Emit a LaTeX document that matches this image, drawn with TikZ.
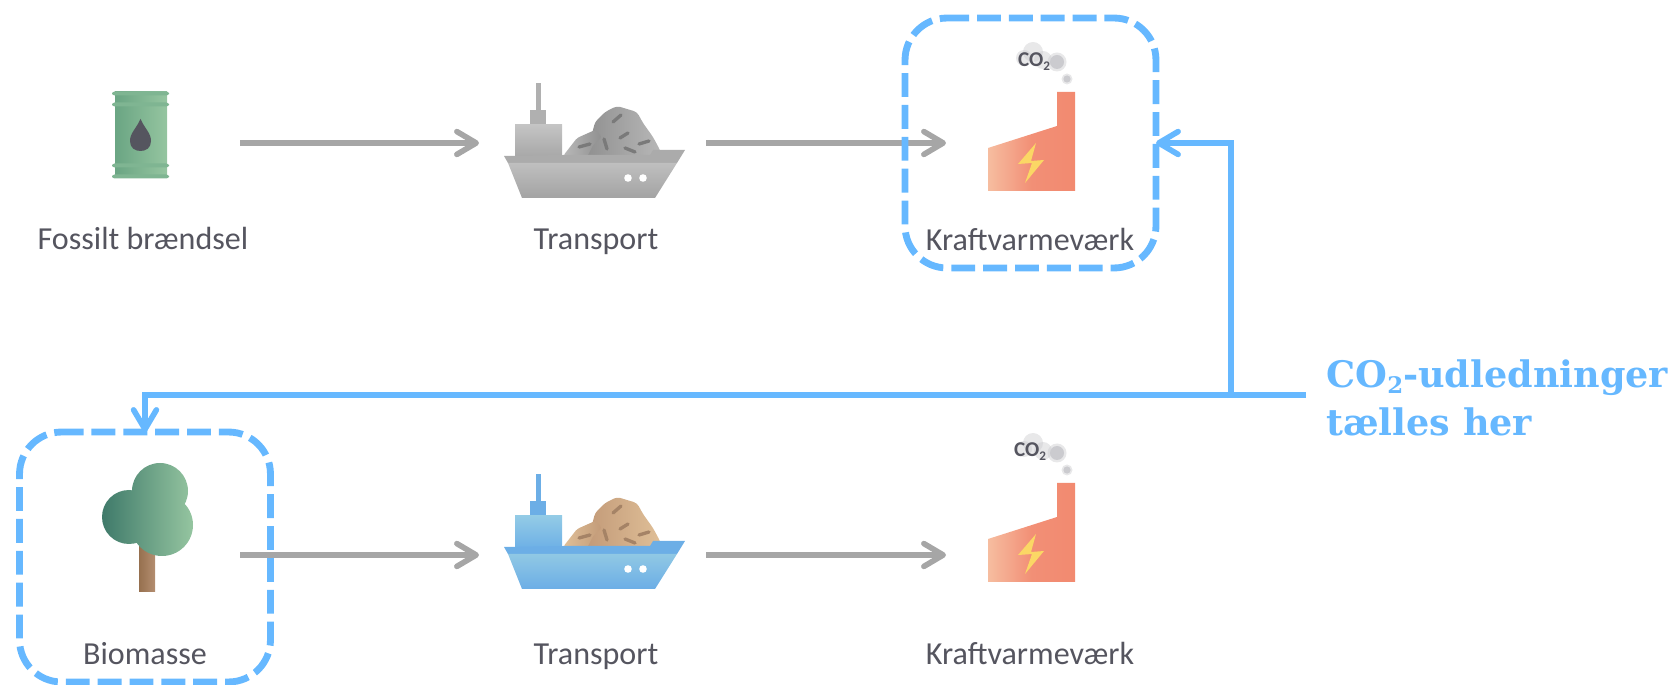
\documentclass[tikz,border=0pt]{standalone}
\usepackage{fontspec}
\setmainfont{Carlito}
\newfontfamily\serifbold{DejaVu Serif}
\usetikzlibrary{arrows.meta,calc}
\newcommand{\defhex}[1]{\definecolor{#1}{HTML}{#1}}
\defhex{6AA583}\defhex{95C5A0}\defhex{7FB592}\defhex{55555F}
\defhex{B0B0B0}\defhex{C4C4C4}\defhex{A8A8A8}\defhex{ABABAB}\defhex{BFBFBF}\defhex{A3A3A3}\defhex{B8B8B8}\defhex{909090}
\defhex{6CAEE6}\defhex{93CBE6}\defhex{6FB1E6}\defhex{90C8E4}\defhex{E0C098}\defhex{C29A78}
\defhex{96704F}\defhex{B48E70}\defhex{3F7A6A}
\defhex{F6BDA0}\defhex{F28A70}\defhex{F28F76}\defhex{FBD765}
\definecolor{linegray}{HTML}{A6A6A6}
\definecolor{bluec}{HTML}{66B8FF}
\definecolor{labelc}{HTML}{55555F}
\definecolor{smokec}{HTML}{CBCBCF}
\tikzset{
  x=0.02cm,y=-0.02cm,
  flowline/.style={draw=linegray,line width=3.4pt,-{Straight Barb[length=11pt,width=13pt,line width=3.2pt,round]}},
  blueline/.style={draw=bluec,line width=3.4pt},
  bluearrow/.style={blueline,-{Straight Barb[length=11pt,width=13pt,line width=3.2pt,round]}},
  dashbox/.style={draw=bluec,line width=3.9pt,rounded corners=0.84cm,dash pattern=on 13.6pt off 4.54pt,dash phase=4.5pt},
  boxarea/.style={minimum width=5.02cm,minimum height=5cm,inner sep=0pt,outer sep=0pt},
  lab/.style={anchor=base,text=labelc,inner sep=0pt,font=\fontsize{18.25}{20}\selectfont},
  cotext/.style={anchor=base,text=labelc,inner sep=0pt,font=\fontsize{12}{12}\selectfont\bfseries},
  bigtext/.style={anchor=base west,text=bluec,inner sep=0pt,font=\fontsize{20.8}{24}\selectfont\serifbold\bfseries},
  smokeblob/.style={fill=smokec,opacity=0.45},
}
\newcommand{\mysub}[1]{{\fontsize{7.5}{7.5}\selectfont\raisebox{-1.8pt}{#1}}}
\newcommand{\myship}[8]{%
  \fill[#1] (536,83) rectangle (541,110);
  \fill[#1] (530,110) rectangle (546,125);
  \shade[top color=#2,bottom color=#3] (515,125) rectangle (562,156);
  \shade[left color=#8,right color=#7,rounded corners=2pt] (593,130)--(595,122)--(605,112)--(617,106)--(637,112)--(643,123)--(653,137)--(660,150)--(662,156)--(586,157)--cycle;
  \shade[left color=#7,right color=#8,rounded corners=1.5pt] (563,156)--(577,138)--(595,130)--(602,137)--(593,145)--(587,157)--cycle;
  \fill[#4] (504,156)--(563,155)--(650,155)--(653,150)--(685,150)--(677,163)--(508,163)--cycle;
  \shade[top color=#5,bottom color=#6] (508,163)--(677,163)--(655,198)--(522,198)--cycle;
  \fill[white] (628,178) circle[radius=3.8] (643,178) circle[radius=3.8];
  \begin{scope}[draw=#8!85!black,line width=1.9pt,line cap=round]
    \draw (613,122)--(621,115);
    \draw (620,138)--(628,133);
    \draw (639,144)--(649,141);
    \draw (625,148)--(635,152);
    \draw (604,139)--(607,149);
    \draw (579,147)--(590,144);
  \end{scope}
}
\newcommand{\myfactory}{%
  \shade[left color=F6BDA0,right color=F28A70,middle color=F28F76] (1057,92)--(1075,92)--(1075,191)--(988,191)--(988,148)--(1057,126)--cycle;
  \fill[FBD765] (1036,143)--(1018,164)--(1032,163)--(1025,183)--(1044,160)--(1031,161)--cycle;
  \fill[smokeblob] (1067,79) circle[radius=5.5];
  \fill[smokec] (1067,79) circle[radius=3.6];
  \fill[smokeblob] (1057,62) circle[radius=9.5];
  \fill[smokec] (1057,62) circle[radius=7];
  \fill[smokeblob] (1033,52) circle[radius=10];
  \fill[smokeblob] (1024,58) circle[radius=8];
  \fill[smokeblob] (1043,60) circle[radius=9];
}
\begin{document}
\begin{tikzpicture}
\useasboundingbox (0,0) rectangle (1677,685);
\coordinate (a1s) at (240,143); \coordinate (a1e) at (479,143);
\coordinate (a2s) at (706,143); \coordinate (a2e) at (946,143);
\coordinate (b1s) at (240,555); \coordinate (b1e) at (479,555);
\coordinate (b2s) at (706,555); \coordinate (b2e) at (946,555);
\coordinate (tr) at (1306,395);
\coordinate (junc) at (1231,395);
\coordinate (corner) at (1231,143);
\coordinate (turn) at (145,395);
\node[boxarea] (box1) at (1030.5,143) {};
\node[boxarea] (box2) at (145,557) {};
\draw[dashbox] ($(box2.north west)+(48,0)$) -| (box2.south east) -| (box2.north west) -- ($(box2.north west)+(48,0)$);
% barrel
\shade[left color=6AA583,right color=95C5A0] (115,92) rectangle (167,178);
\foreach \yy in {93.5,104.5,165.5,176.5}
  \fill[7FB592,rounded corners=1.5pt] (112,\yy-2) rectangle (169,\yy+2);
\fill[55555F] (140.5,119) .. controls (136,129) and (130,133) .. (130,141) .. controls (130,148) and (135,151) .. (140.5,151) .. controls (146,151) and (151,148) .. (151,141) .. controls (151,133) and (145,129) .. (140.5,119) -- cycle;
% ships
\myship{B0B0B0}{C4C4C4}{A8A8A8}{ABABAB}{BFBFBF}{A3A3A3}{B8B8B8}{909090}
\begin{scope}[shift={(0,391)}]
\myship{6CAEE6}{93CBE6}{6FB1E6}{6CAEE6}{90C8E4}{6CAEE6}{E0C098}{C29A78}
\end{scope}
% factories
\myfactory
\begin{scope}[shift={(0,391)}]
\myfactory
\end{scope}
% tree
\shade[left color=96704F,right color=B48E70] (139,543) rectangle (155,592);
\shade[left color=3F7A6A,right color=95C5A0] (160,491) circle[radius=28] (129,517) circle[radius=27] (162,525) circle[radius=31];
% arrows
\draw[flowline] (a1s) -- (a1e);
\draw[flowline] (a2s) -- (a2e);
\draw[flowline] (b1s) -- (b1e);
\draw[flowline] (b2s) -- (b2e);
\draw[dashbox] ($(box1.north west)+(48,0)$) -| (box1.south east) -| (box1.north west) -- ($(box1.north west)+(48,0)$);
% blue connectors
\draw[bluearrow] (tr) -- (turn) -- (box2.north);
\draw[bluearrow] (junc) -- (corner) -- (box1.east);
% labels
\node[lab] (l1) at (143,250) {Fossilt brændsel};
\node[lab] (l2) at (596,250) {Transport};
\node[lab] (l3) at (1030,251) {Kraftvarmeværk};
\node[lab] (l4) at (145,664) {Biomasse};
\node[lab] (l5) at (596,664) {Transport};
\node[lab] (l6) at (1030,664) {Kraftvarmeværk};
\node[cotext] (c1) at (1034,67) {CO\mysub{2}};
\node[cotext] (c2) at (1030,457) {CO\mysub{2}};
\node[bigtext] (t1) at (1326,388) {CO{\fontsize{13}{13}\selectfont\raisebox{-3pt}{2}}-udledninger};
\node[bigtext] (t2) at (1326,436) {tælles her};
\end{tikzpicture}
\end{document}
